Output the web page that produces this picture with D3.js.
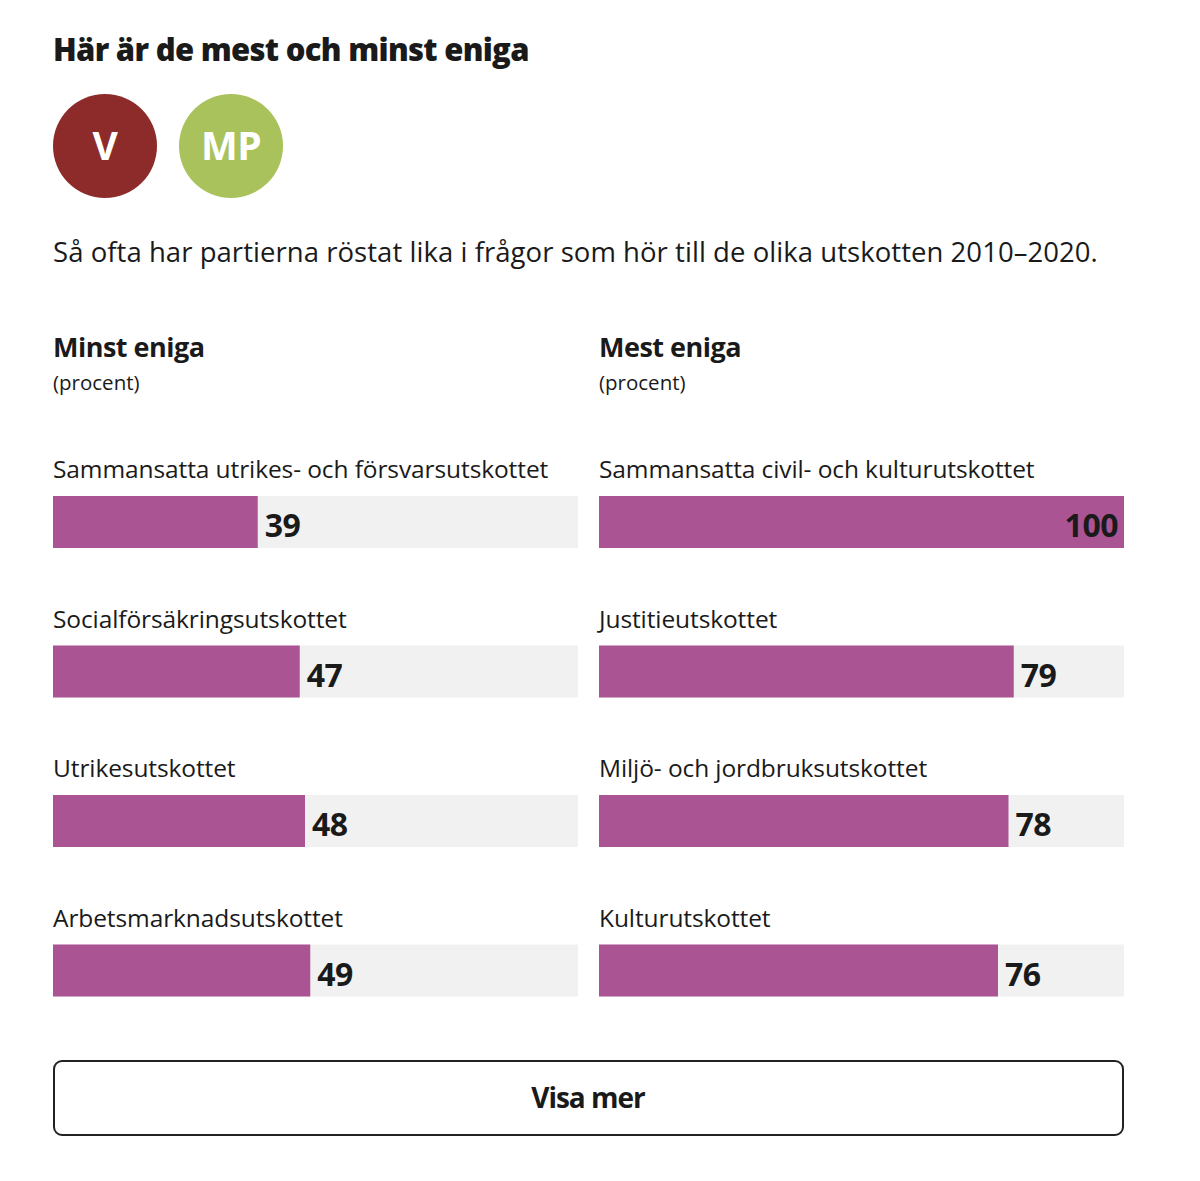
<!DOCTYPE html>
<html>
<head>
<meta charset="utf-8">
<script src="https://cdn.jsdelivr.net/npm/d3@7"></script>
<style>
  body { margin: 0; background: #fff; }
  svg text { font-family: "Open Sans", "Noto Sans", sans-serif; fill: #1a1a1a; }
</style>
</head>
<body>
<div id="mainChart"></div>
<script>
// Data
const minstLabels = ["Sammansatta utrikes- och försvarsutskottet", "Socialförsäkringsutskottet", "Utrikesutskottet", "Arbetsmarknadsutskottet"]
const minstValues = [39, 47, 48, 49]
const mestLabels = ["Sammansatta civil- och kulturutskottet", "Justitieutskottet", "Miljö- och jordbruksutskottet", "Kulturutskottet"]
const mestValues = [100, 79, 78, 76]
const parties = ["V", "MP"]
const partyColors = ["#8c2b29", "#a9c25b"]

const width = 1200, height = 1181
const colWidth = 525
const colX = [53, 599]
const barColor = "#ab5493"
const trackColor = "#f1f1f1"

let svg = d3.select("#mainChart").append("svg")
   .attr("width", width)
   .attr("height", height)

// Title
svg.append("text")
   .attr("x", 53).attr("y", 61)
   .attr("font-size", 31).attr("font-weight", 800)
   .attr("letter-spacing", -0.7)
   .text("Här är de mest och minst eniga")

// Party circles
let partyG = svg.selectAll("g.party").data(parties)
   .join("g")
   .attr("class", "party")
   .attr("transform", (d, i) => "translate(" + (105 + i * 126) + ",146)")

partyG.append("circle")
   .attr("r", 52)
   .attr("fill", (d, i) => partyColors[i])

partyG.append("text")
   .attr("text-anchor", "middle")
   .attr("y", 14)
   .attr("font-size", 39).attr("font-weight", 700)
   .attr("letter-spacing", -0.5)
   .style("fill", "#fff")
   .text(d => d)

// Subtitle
svg.append("text")
   .attr("x", 53).attr("y", 262)
   .attr("font-size", 27.5)
   .attr("letter-spacing", 0.05)
   .text("Så ofta har partierna röstat lika i frågor som hör till de olika utskotten 2010–2020.")

// Columns
let x = d3.scaleLinear().domain([0, 100]).range([0, colWidth])
let y = d3.scaleBand().domain(d3.range(4)).range([440, 1038])

const columns = [
   { title: "Minst eniga", labels: minstLabels, values: minstValues },
   { title: "Mest eniga", labels: mestLabels, values: mestValues }
]

columns.forEach(function (col, ci) {
   let g = svg.append("g").attr("transform", "translate(" + colX[ci] + ",0)")

   g.append("text")
      .attr("y", 357)
      .attr("font-size", 27).attr("font-weight", 700)
      .attr("letter-spacing", -0.5)
      .text(col.title)

   g.append("text")
      .attr("y", 390)
      .attr("font-size", 20.5)
      .text("(procent)")

   let rows = g.selectAll("g.row").data(col.values)
      .join("g")
      .attr("class", "row")
      .attr("transform", (d, i) => "translate(0," + y(i) + ")")

   rows.append("text")
      .attr("y", 38)
      .attr("font-size", 24.5)
      .attr("letter-spacing", -0.1)
      .text((d, i) => col.labels[i])

   rows.append("rect")
      .attr("y", 56).attr("height", 52)
      .attr("width", x(100))
      .attr("fill", trackColor)

   rows.append("rect")
      .attr("y", 56).attr("height", 52)
      .attr("width", d => x(d))
      .attr("fill", barColor)

   rows.append("text")
      .attr("x", d => d === 100 ? x(d) - 6 : x(d) + 7)
      .attr("y", 97)
      .attr("text-anchor", d => d === 100 ? "end" : "start")
      .attr("font-size", 32).attr("font-weight", 700)
      .attr("letter-spacing", -0.5)
      .text(d => d)
})

// Button
svg.append("rect")
   .attr("x", 54).attr("y", 1061)
   .attr("width", 1069).attr("height", 74)
   .attr("rx", 8)
   .attr("fill", "#fff")
   .attr("stroke", "#222")
   .attr("stroke-width", 2)

svg.append("text")
   .attr("x", 588).attr("y", 1108)
   .attr("text-anchor", "middle")
   .attr("font-size", 28).attr("font-weight", 700)
   .attr("letter-spacing", -1)
   .text("Visa mer")
</script>
</body>
</html>
